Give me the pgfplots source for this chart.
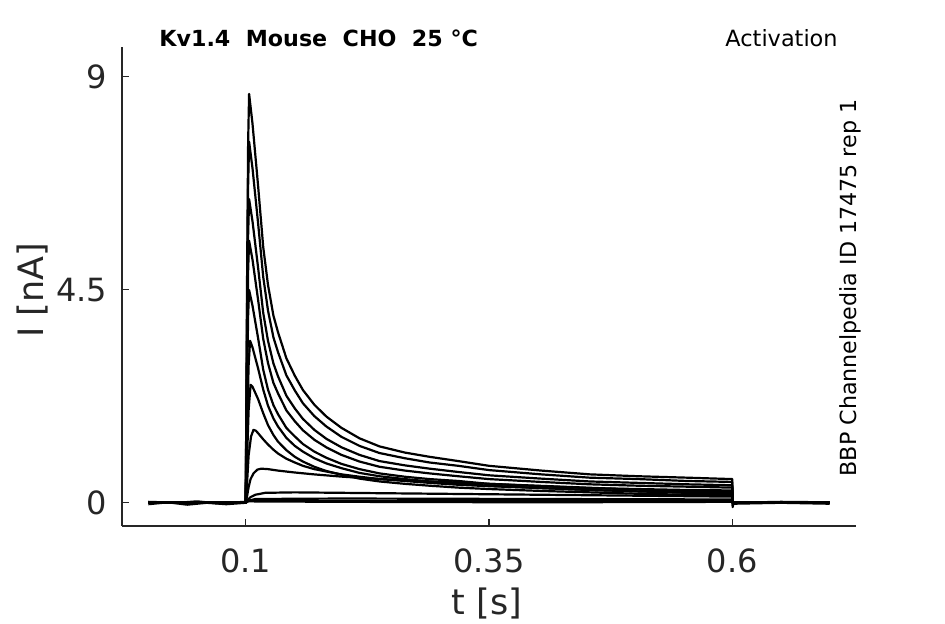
\documentclass[border=0pt]{standalone}
\usepackage{pgfplots}
\pgfplotsset{compat=1.18}
\usepackage{fontspec}
\setmainfont{DejaVu Sans}
\definecolor{axgray}{HTML}{262626}

\begin{document}
\begin{tikzpicture}
\begin{axis}[
  name=ax,
  scale only axis, width=367pt, height=239.5pt,
  xmin=-0.0271, xmax=0.7271, ymin=-0.49, ymax=9.62,
  axis lines=left, axis line style={-, draw=axgray, line width=0.6pt},
  tick align=inside, major tick length=3.5pt, tick style={axgray, line width=0.6pt},
  xtick={0.1,0.35,0.6}, xticklabels={0.1,0.35,0.6},
  ytick={0,4.5,9}, yticklabels={0,4.5,9},
  ticklabel style={font=\fontsize{16}{19}\selectfont, text=axgray},
  xticklabel style={yshift=-8pt},
  yticklabel style={xshift=-4pt},
  clip=false,
  cycle list={{black, mark=none, solid}},
  every axis plot/.append style={black, mark=none, line width=1.1pt, line join=round},
]
% near-zero traces
\addplot coordinates {(0,-0.03)(0.02,0.01)(0.04,-0.04)(0.06,0.0)(0.08,-0.03)(0.1,0.0)(0.1005,0.03)(0.2,0.02)(0.4,0.01)(0.6,0.02)(0.6004,-0.09)(0.601,-0.02)(0.65,0.0)(0.7,-0.02)};
\addplot coordinates {(0,0.02)(0.03,0.0)(0.05,0.03)(0.07,-0.01)(0.1,0.02)(0.1005,0.04)(0.3,0.04)(0.6,0.04)(0.6003,0.0)(0.65,0.02)(0.7,0.01)};
% small traces
\addplot coordinates {(0,0)(0.1,0)(0.104,0.05)(0.11,0.08)(0.2,0.09)(0.4,0.08)(0.6,0.07)(0.6003,0)(0.7,0)};
\addplot coordinates {(0,0)(0.1,0)(0.102,0.06)(0.105,0.12)(0.11,0.17)(0.12,0.21)(0.15,0.22)(0.2,0.21)(0.3,0.19)(0.4,0.17)(0.5,0.15)(0.6,0.13)(0.6003,0)(0.7,0)};
% 0.72
\addplot coordinates {(0,0)(0.1,0)(0.1015,0.15)(0.103,0.33)(0.105,0.5)(0.108,0.62)(0.112,0.70)(0.116,0.72)(0.123,0.71)(0.133,0.68)(0.15,0.64)(0.17,0.60)(0.2,0.55)(0.24,0.50)(0.29,0.45)(0.35,0.40)(0.4,0.36)(0.45,0.32)(0.5,0.28)(0.55,0.25)(0.6,0.22)(0.6003,0)(0.7,0)};
% 1.54
\addplot coordinates {(0,0)(0.1,0)(0.1015,0.45)(0.103,1.0)(0.1055,1.40)(0.108,1.54)(0.1105,1.52)(0.1127,1.47)(0.118,1.34)(0.1229,1.23)(0.1285,1.12)(0.1332,1.04)(0.1418,0.93)(0.1505,0.85)(0.1588,0.78)(0.1705,0.71)(0.1829,0.66)(0.1985,0.60)(0.217,0.55)(0.2375,0.50)(0.2635,0.46)(0.289,0.42)(0.3185,0.38)(0.35,0.35)(0.4035,0.31)(0.4535,0.27)(0.5035,0.24)(0.5535,0.21)(0.6,0.19)(0.6003,0)(0.7,0)};
% 2.49
\addplot coordinates {(0,0)(0.1,0)(0.1008,0.5)(0.1015,1.0)(0.103,1.95)(0.105,2.49)(0.107,2.45)(0.1127,2.19)(0.118,1.89)(0.1229,1.64)(0.1285,1.43)(0.1332,1.29)(0.1418,1.11)(0.1505,0.97)(0.1588,0.87)(0.1705,0.76)(0.1829,0.67)(0.1985,0.59)(0.217,0.51)(0.2375,0.45)(0.2635,0.40)(0.289,0.36)(0.3185,0.32)(0.35,0.29)(0.4035,0.25)(0.4535,0.22)(0.5035,0.19)(0.5535,0.17)(0.6,0.16)(0.6003,0)(0.7,0)};
% 3.42
\addplot coordinates {(0,0)(0.1,0)(0.1008,0.8)(0.1015,1.6)(0.103,2.9)(0.1045,3.42)(0.107,3.28)(0.1127,2.84)(0.118,2.39)(0.1229,2.05)(0.1285,1.78)(0.1332,1.61)(0.1418,1.37)(0.1505,1.20)(0.1588,1.08)(0.1705,0.94)(0.1829,0.83)(0.1985,0.73)(0.217,0.63)(0.2375,0.56)(0.2635,0.50)(0.289,0.45)(0.3185,0.40)(0.35,0.36)(0.4035,0.31)(0.4535,0.27)(0.5035,0.24)(0.5535,0.22)(0.6,0.21)(0.6003,0)(0.7,0)};
% 4.49
\addplot coordinates {(0,0)(0.1,0)(0.1008,1.3)(0.1015,2.6)(0.1025,3.95)(0.1035,4.49)(0.107,4.16)(0.1127,3.48)(0.118,2.81)(0.1229,2.39)(0.1285,2.06)(0.1332,1.87)(0.1418,1.58)(0.1505,1.40)(0.1588,1.24)(0.1705,1.08)(0.1829,0.95)(0.1985,0.82)(0.217,0.71)(0.2375,0.62)(0.2635,0.55)(0.289,0.50)(0.3185,0.46)(0.35,0.40)(0.4035,0.35)(0.4535,0.31)(0.5035,0.29)(0.5535,0.27)(0.6,0.26)(0.6003,0)(0.7,0)};
% 5.53
\addplot coordinates {(0,0)(0.1,0)(0.1008,1.6)(0.1015,3.2)(0.1025,4.9)(0.1035,5.53)(0.107,5.13)(0.1127,4.29)(0.118,3.46)(0.1229,2.95)(0.1285,2.53)(0.1332,2.31)(0.1418,1.95)(0.1505,1.72)(0.1588,1.53)(0.1705,1.33)(0.1829,1.17)(0.1985,1.01)(0.217,0.87)(0.2375,0.76)(0.2635,0.68)(0.289,0.62)(0.3185,0.56)(0.35,0.50)(0.4035,0.44)(0.4535,0.39)(0.5035,0.36)(0.5535,0.34)(0.6,0.32)(0.6003,0)(0.7,0)};
% 6.41
\addplot coordinates {(0,0)(0.1,0)(0.1008,1.9)(0.1015,3.7)(0.1025,5.65)(0.1035,6.41)(0.107,5.94)(0.1127,4.97)(0.118,4.01)(0.1229,3.42)(0.1285,2.94)(0.1332,2.67)(0.1418,2.26)(0.1505,1.99)(0.1588,1.77)(0.1705,1.54)(0.1829,1.35)(0.1985,1.17)(0.217,1.01)(0.2375,0.88)(0.2635,0.79)(0.289,0.72)(0.3185,0.65)(0.35,0.58)(0.4035,0.51)(0.4535,0.45)(0.5035,0.42)(0.5535,0.39)(0.6,0.37)(0.6003,0)(0.7,0)};
% 7.62
\addplot coordinates {(0,0)(0.1,0)(0.1008,2.2)(0.1015,4.4)(0.1025,6.7)(0.1035,7.62)(0.107,7.06)(0.1127,5.91)(0.118,4.77)(0.1229,4.06)(0.1285,3.49)(0.1332,3.18)(0.1418,2.69)(0.1505,2.37)(0.1588,2.10)(0.1705,1.83)(0.1829,1.61)(0.1985,1.39)(0.217,1.20)(0.2375,1.05)(0.2635,0.94)(0.289,0.85)(0.3185,0.78)(0.35,0.69)(0.4035,0.60)(0.4535,0.53)(0.5035,0.50)(0.5535,0.46)(0.6,0.44)(0.6003,0)(0.7,0)};
% 8.63
\addplot coordinates {(0,0)(0.05,0)(0.1,0)(0.1008,2.5)(0.1015,5.0)(0.1025,7.6)(0.1035,8.63)(0.107,8.00)(0.1127,6.70)(0.118,5.40)(0.1229,4.60)(0.1285,3.95)(0.1332,3.60)(0.1418,3.05)(0.1505,2.68)(0.1588,2.38)(0.1705,2.07)(0.1829,1.82)(0.1985,1.58)(0.217,1.36)(0.2375,1.19)(0.2635,1.06)(0.289,0.97)(0.3185,0.88)(0.35,0.78)(0.4035,0.68)(0.4535,0.60)(0.5035,0.56)(0.5535,0.53)(0.6,0.50)(0.6003,0)(0.7,0)};

\node[anchor=base west, inner sep=0, font=\fontsize{11.1}{13}\selectfont\bfseries] at (axis description cs:0.0504,1.0006) {Kv1.4\ \ Mouse\ \ CHO\ \ 25 °C};
\node[anchor=base east, inner sep=0, font=\fontsize{11.2}{13}\selectfont] at (axis description cs:0.9755,1.0006) {Activation};
\node[rotate=90, anchor=center, inner sep=0, font=\fontsize{11.1}{13}\selectfont] at (axis description cs:0.9918,0.497) {BBP Channelpedia ID 17475 rep 1};
\node[rotate=90, anchor=center, inner sep=0, text=axgray, font=\fontsize{17.5}{20}\selectfont] at (axis description cs:-0.1213,0.4927) {I [nA]};
\node[anchor=center, inner sep=0, text=axgray, font=\fontsize{17.5}{20}\selectfont] at (axis description cs:0.4973,-0.1608) {t [s]};
\end{axis}
\pgfresetboundingbox
\path[use as bounding box] ([xshift=-61pt,yshift=-49pt]ax.south west) rectangle ([xshift=411.5pt,yshift=263pt]ax.south west);
\end{tikzpicture}
\end{document}
